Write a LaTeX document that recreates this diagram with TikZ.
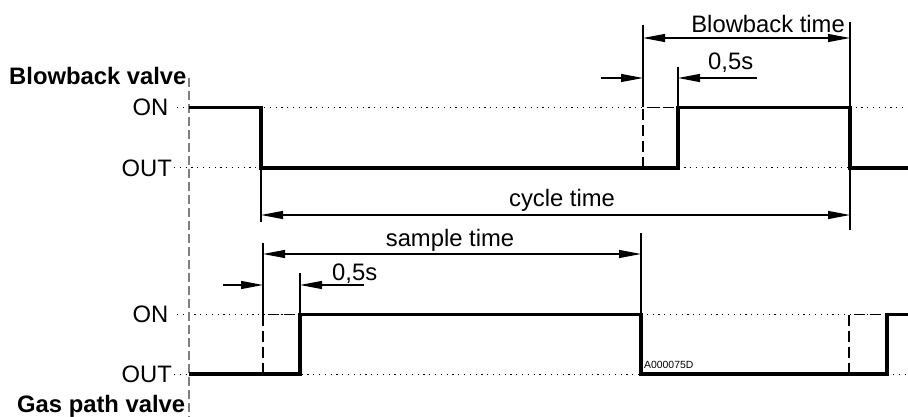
\documentclass[tikz,border=0pt]{standalone}
\usepackage{fontspec}
\setmainfont{Liberation Sans}
\usetikzlibrary{arrows.meta}
\begin{document}
\begin{tikzpicture}[x=1pt,y=-1pt,
  sig/.style={line width=3.4pt, line join=miter},
  ext/.style={line width=1.1pt},
  dotl/.style={line width=1pt, dash pattern=on 1.2pt off 4.6pt},
  dashl/.style={line width=1.4pt, dash pattern=on 11pt off 5pt},
  axisdash/.style={line width=1.4pt, gray, dash pattern=on 9pt off 4pt},
  dimone/.style={line width=1.1pt, -{Triangle[length=22pt,width=8pt]}},
  dimboth/.style={line width=1.1pt, {Triangle[length=22pt,width=8pt]}-{Triangle[length=22pt,width=8pt]}},
  lbl/.style={font=\fontsize{23.8}{28}\selectfont, inner sep=0pt},
  blbl/.style={font=\fontsize{23.8}{28}\selectfont\bfseries, inner sep=0pt},
  tiny/.style={font=\fontsize{10.4}{12}\selectfont, inner sep=0pt}]
\useasboundingbox (0,0) rectangle (908,417);

% level coordinates
\coordinate (uONa) at (177,107.5);  \coordinate (uONb) at (908,107.5);
\coordinate (uOUTa) at (174,168);   \coordinate (uOUTb) at (908,168);
\coordinate (lONa) at (177,314.5);  \coordinate (lONb) at (908,314.5);
\coordinate (lOUTa) at (174,374);   \coordinate (lOUTb) at (908,374);

% dotted level lines
\draw[dotl] (uONa) -- (uONb);
\draw[dotl] (uOUTa) -- (uOUTb);
\draw[dotl] (lONa) -- (lONb);
\draw[dotl] (lOUTa) -- (lOUTb);

% time axis (gray dashed)
\coordinate (axT) at (189,78); \coordinate (axB) at (189,417);
\draw[axisdash] (axT) -- (axB);

% labels
\node[blbl, anchor=base west] (bv) at (9,85) {Blowback valve};
\node[blbl, anchor=base west] (gv) at (17,412) {Gas path valve};
\node[lbl, anchor=base east] (uon) at (168.5,115.5) {ON};
\node[lbl, anchor=base east] (uout) at (172,176) {OUT};
\node[lbl, anchor=base east] (lon) at (168.5,322.5) {ON};
\node[lbl, anchor=base east] (lout) at (172,382) {OUT};

% extension lines
\coordinate (e1a) at (643,25);   \coordinate (e1b) at (643,107.5);
\coordinate (e2a) at (678,67);   \coordinate (e2b) at (678,107.5);
\coordinate (e3a) at (850,22);   \coordinate (e3b) at (850,230);
\coordinate (e4a) at (261,168);  \coordinate (e4b) at (261,222);
\coordinate (e5a) at (263,243);  \coordinate (e5b) at (263,314.5);
\coordinate (e6a) at (300,273);  \coordinate (e6b) at (300,314.5);
\coordinate (e7a) at (641,233);  \coordinate (e7b) at (641,314.5);
\foreach \e in {1,...,7} { \draw[ext] (e\e a) -- (e\e b); }

% dashed early transitions
\draw[dashl] (643,168) -- (643,107.5) -- (678,107.5);
\draw[dashl] (263,374) -- (263,314.5) -- (300,314.5);
\draw[dashl] (849,374) -- (849,314.5) -- (887,314.5);

% signals
\draw[sig] (189,107.5) -- (261,107.5) -- (261,168) -- (678,168) -- (678,107.5)
  -- (850,107.5) -- (850,168) -- (908,168);
\draw[sig] (189,374) -- (300,374) -- (300,314.5) -- (641,314.5) -- (641,374)
  -- (887,374) -- (887,314.5) -- (908,314.5);

% dimensions
\coordinate (bt1) at (643,38); \coordinate (bt2) at (850,38);
\draw[dimboth] (bt1) -- (bt2);
\node[lbl, anchor=base east] (btl) at (845,33) {Blowback time};

\coordinate (h1a) at (601,78); \coordinate (h1b) at (643,78);
\coordinate (h2a) at (757,78); \coordinate (h2b) at (678,78);
\draw[dimone] (h1a) -- (h1b);
\draw[dimone] (h2a) -- (h2b);
\node[lbl, anchor=base west] (hl) at (708,70) {0,5s};

\coordinate (c1) at (261,215); \coordinate (c2) at (850,215);
\draw[dimboth] (c1) -- (c2);
\node[lbl, anchor=base] (cl) at (562,207) {cycle time};

\coordinate (s1) at (263,254); \coordinate (s2) at (641,254);
\draw[dimboth] (s1) -- (s2);
\node[lbl, anchor=base] (sl) at (450,246) {sample time};

\coordinate (g1a) at (223,285); \coordinate (g1b) at (263,285);
\coordinate (g2a) at (364,285); \coordinate (g2b) at (300,285);
\draw[dimone] (g1a) -- (g1b);
\draw[dimone] (g2a) -- (g2b);
\node[lbl, anchor=base west] (gl) at (332,280) {0,5s};

\node[tiny, anchor=base west] (code) at (644,368) {A000075D};
\end{tikzpicture}
\end{document}
